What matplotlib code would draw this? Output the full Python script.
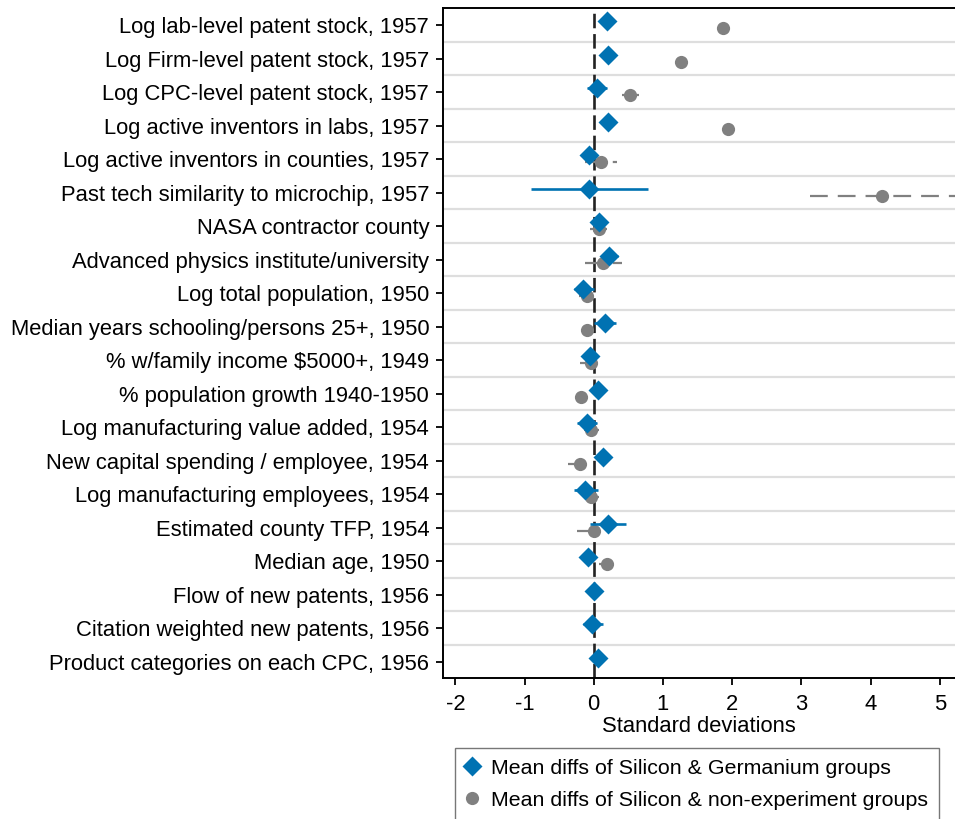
import numpy as np
import matplotlib.pyplot as plt
from matplotlib.lines import Line2D

plt.rcParams['font.family'] = ['Liberation Sans', 'DejaVu Sans']

# variable labels, top to bottom
labels = [
    "Log lab-level patent stock, 1957",
    "Log Firm-level patent stock, 1957",
    "Log CPC-level patent stock, 1957",
    "Log active inventors in labs, 1957",
    "Log active inventors in counties, 1957",
    "Past tech similarity to microchip, 1957",
    "NASA contractor county",
    "Advanced physics institute/university",
    "Log total population, 1950",
    "Median years schooling/persons 25+, 1950",
    "% w/family income $5000+, 1949",
    "% population growth 1940-1950",
    "Log manufacturing value added, 1954",
    "New capital spending / employee, 1954",
    "Log manufacturing employees, 1954",
    "Estimated county TFP, 1954",
    "Median age, 1950",
    "Flow of new patents, 1956",
    "Citation weighted new patents, 1956",
    "Product categories on each CPC, 1956",
]

# Silicon vs Germanium: estimate and CI
ge_est = [0.19, 0.20, 0.05, 0.20, -0.07, -0.07, 0.07, 0.22, -0.16, 0.16,
          -0.05, 0.06, -0.10, 0.13, -0.12, 0.20, -0.08, 0.01, -0.02, 0.06]
ge_lo = [0.17, 0.18, -0.10, 0.18, -0.10, -0.91, 0.05, 0.10, -0.29, 0.00,
         -0.12, 0.04, -0.24, 0.11, -0.29, -0.06, -0.10, -0.01, -0.16, 0.04]
ge_hi = [0.21, 0.22, 0.19, 0.22, -0.04, 0.78, 0.09, 0.35, 0.00, 0.32,
         0.02, 0.08, 0.05, 0.15, 0.06, 0.47, -0.06, 0.03, 0.13, 0.08]

# Silicon vs non-experiment: estimate and CI (None = not shown)
ne_est = [1.87, 1.26, 0.53, 1.94, 0.10, 4.16, 0.08, 0.14, -0.10, -0.10,
          -0.04, -0.18, -0.04, -0.20, -0.04, 0.00, 0.19, None, None, None]
ne_lo = [1.86, 1.25, 0.41, 1.93, -0.12, 3.13, -0.05, -0.12, -0.22, -0.11,
         -0.20, -0.19, -0.14, -0.37, -0.12, -0.24, 0.07, None, None, None]
ne_hi = [1.88, 1.27, 0.65, 1.95, 0.33, 5.40, 0.19, 0.41, 0.00, -0.09,
         0.07, -0.17, 0.07, -0.10, 0.07, 0.09, 0.30, None, None, None]

blue = "#0072B2"
gray = "#808080"
fs = 15.8

fig = plt.figure(figsize=(9.55, 8.19), dpi=100)
ax = fig.add_axes([0.4639, 0.1718, 0.5361, 0.8181])

rows = np.arange(1, len(labels) + 1)

# light separators between rows
for r in rows[:-1]:
    ax.axhline(r + 0.5, color="#dedede", lw=1.6, zorder=0)

ax.axvline(0, color="#222222", lw=1.9, dashes=(5.5, 2.2), zorder=1)

# non-experiment group (gray, dashed CI)
for i, r in enumerate(rows):
    if ne_est[i] is None:
        continue
    y = r + 0.09
    ax.plot([ne_lo[i], ne_hi[i]], [y, y], color=gray, lw=1.6,
            dashes=(8, 4.5), zorder=2, solid_capstyle="butt")
    ax.plot(ne_est[i], y, "o", color=gray, ms=9.5, mec="none", zorder=3)

# germanium group (blue, solid CI)
for i, r in enumerate(rows):
    y = r - 0.12
    ax.plot([ge_lo[i], ge_hi[i]], [y, y], color=blue, lw=1.9, zorder=4,
            solid_capstyle="butt")
    ax.plot(ge_est[i], y, "D", color=blue, ms=10.3, mec="none", zorder=5)

ax.set_xlim(-2.178, 5.221)
ax.set_ylim(20.5, 0.5)
ax.set_yticks(rows)
ax.set_yticklabels(labels)
ax.set_xticks(np.arange(-2, 6))
ax.set_xticklabels([str(v) for v in range(-2, 6)])
ax.tick_params(axis="y", length=5, width=1.3, pad=5, labelsize=fs)
ax.tick_params(axis="x", length=5, width=1.3, pad=6, labelsize=fs)
ax.set_xlabel("Standard deviations", fontsize=fs, labelpad=1)

for s in ["left", "bottom", "top"]:
    ax.spines[s].set_linewidth(1.4)
ax.spines["right"].set_visible(False)

handles = [
    Line2D([], [], marker="D", color=blue, ls="none", ms=10.3, mec="none"),
    Line2D([], [], marker="o", color=gray, ls="none", ms=9.5, mec="none"),
]
leg = fig.legend(handles,
                 ["Mean diffs of Silicon & Germanium groups",
                  "Mean diffs of Silicon & non-experiment groups"],
                 loc="upper left", bbox_to_anchor=(0.4764, 0.0867),
                 fontsize=15.4, frameon=True, fancybox=False, edgecolor="#555555",
                 handletextpad=0.6, handlelength=0.6, borderpad=0.5,
                 labelspacing=0.6, borderaxespad=0)
leg.get_frame().set_linewidth(1.0)

fig.savefig("out.png", dpi=100)
